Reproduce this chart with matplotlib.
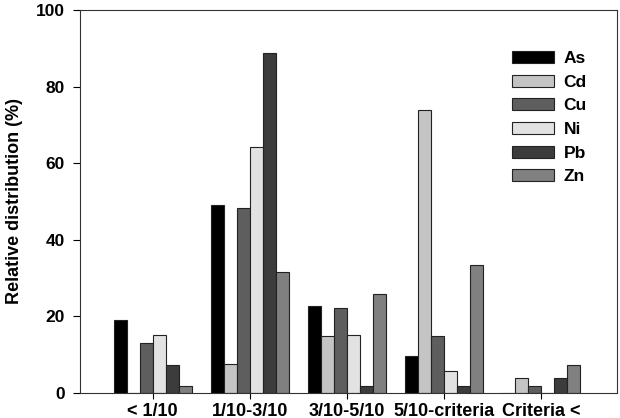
import matplotlib.pyplot as plt
import numpy as np

plt.rcParams['font.family'] = ['Liberation Sans', 'DejaVu Sans']
plt.rcParams['font.weight'] = 'bold'

categories = ['< 1/10', '1/10-3/10', '3/10-5/10', '5/10-criteria', 'Criteria <']
metals = ['As', 'Cd', 'Cu', 'Ni', 'Pb', 'Zn']
As = [19.0, 49.0, 22.8, 9.6, 0.0]
Cd = [0.0, 7.6, 14.8, 74.0, 3.8]
Cu = [13.0, 48.2, 22.3, 14.8, 1.9]
Ni = [15.2, 64.3, 15.1, 5.8, 0.0]
Pb = [7.4, 88.9, 1.9, 1.9, 3.8]
Zn = [1.9, 31.5, 25.9, 33.3, 7.4]
series = [As, Cd, Cu, Ni, Pb, Zn]
colors = ['#000000', '#c4c4c4', '#5e5e5e', '#e2e2e2', '#3c3c3c', '#808080']

fig = plt.figure(figsize=(6.2, 4.18), dpi=100)
ax = fig.add_axes([0.129, 0.06, 0.866, 0.916])

x = np.arange(len(categories))
w = 0.8 / 6
for k, (vals, c, m) in enumerate(zip(series, colors, metals)):
    ax.bar(x - 0.4 + w * (k + 0.5), vals, w, color=c, edgecolor='#222222',
           linewidth=0.8, label=m)

ax.set_xlim(-0.75, 4.78)
ax.set_ylim(0, 100)
ax.set_yticks([0, 20, 40, 60, 80, 100])
ax.set_xticks(x)
ax.set_xticklabels(categories, fontsize=13, fontweight='bold')
ax.tick_params(axis='y', labelsize=12.5, length=5, width=0.8, pad=6)
ax.tick_params(axis='x', length=4, width=0.8, pad=3)
for lab in ax.get_yticklabels():
    lab.set_fontweight('bold')
ax.set_ylabel('Relative distribution (%)', fontsize=13, fontweight='bold')
ax.yaxis.set_label_coords(-0.107, 0.5)
for s in ax.spines.values():
    s.set_linewidth(0.8)
    s.set_color('#333333')

leg = ax.legend(loc='upper left', bbox_to_anchor=(0.805, 0.893), frameon=False,
                handlelength=2.4, handleheight=0.7, labelspacing=0.49,
                handletextpad=0.55, borderpad=0, borderaxespad=0,
                prop={'weight': 'bold', 'size': 12.5})

fig.savefig('out.png', dpi=100)
